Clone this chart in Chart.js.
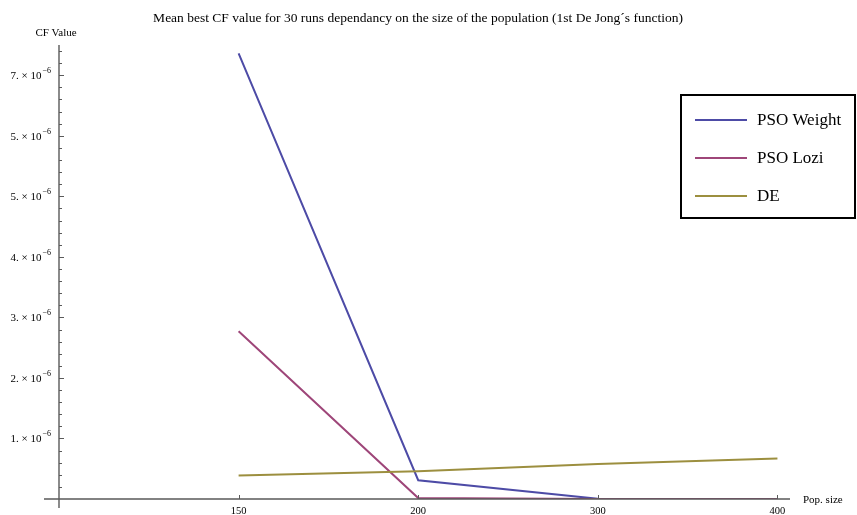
<!DOCTYPE html>
<html>
<head>
<meta charset="utf-8">
<script src="https://cdn.jsdelivr.net/npm/chart.js@4/dist/chart.umd.min.js"></script>
<style>
  html, body { margin: 0; padding: 0; background: #fff; }
  #wrap { width: 857px; height: 515px; position: relative; }
</style>
</head>
<body>
<div id="wrap"><canvas id="cfChart"></canvas></div>
<script>
// population sizes on the x axis
const popSizes = ['150', '200', '300', '400'];

// mean best CF value for each algorithm
const psoWeight = [7.36e-6, 0.31e-6, 0.004e-6, 0.002e-6];
const psoLozi = [2.77e-6, 0.015e-6, 0.002e-6, 0.002e-6];
const deVals = [0.39e-6, 0.46e-6, 0.58e-6, 0.67e-6];

// y tick labels as printed in the picture (mantissa, exponent)
const yTickVals = [1e-6, 2e-6, 3e-6, 4e-6, 5e-6, 6e-6, 7e-6];
const yTickLabels = ['1.', '2.', '3.', '4.', '5.', '5.', '7.'];
const yTickExp = '\u22126';

const seriesNames = ['PSO Weight', 'PSO Lozi', 'DE'];
const seriesColors = ['#4d4ba6', '#9e4679', '#9c8f3f'];

const chartTitle = 'Mean best CF value for 30 runs dependancy on the size of the population (1st De Jong\u00b4s function)';

const serif = '"Liberation Serif", "DejaVu Serif", serif';

function toPoints(vals) {
  return vals.map((v, i) => ({ x: i + 1, y: v }));
}

const axesPlugin = {
  id: 'mmaAxes',
  afterDraw(chart) {
    const ctx = chart.ctx;
    const xs = chart.scales.x;
    const ys = chart.scales.y;
    const x0 = xs.getPixelForValue(0);
    const y0 = ys.getPixelForValue(0);
    ctx.save();

    // title
    ctx.fillStyle = '#000';
    ctx.font = '13.5px ' + serif;
    ctx.textAlign = 'center';
    ctx.textBaseline = 'alphabetic';
    ctx.fillText(chartTitle, 418, 22);

    // axis lines
    ctx.strokeStyle = '#5a5a5a';
    ctx.lineWidth = 1.4;
    ctx.beginPath();
    ctx.moveTo(x0, ys.top);
    ctx.lineTo(x0, y0 + 9);
    ctx.moveTo(x0 - 15, y0);
    ctx.lineTo(xs.right, y0);
    ctx.stroke();

    // y ticks: majors every 1e-6, minors every 0.2e-6
    ctx.lineWidth = 1;
    ctx.beginPath();
    for (let k = 1; k <= 37; k++) {
      const py = Math.round(ys.getPixelForValue(k * 0.2e-6)) + 0.5;
      if (py < ys.top) break;
      const len = (k % 5 === 0) ? 5 : 3;
      ctx.moveTo(x0, py);
      ctx.lineTo(x0 + len, py);
    }
    // x ticks
    popSizes.forEach((p, i) => {
      const px = Math.round(xs.getPixelForValue(i + 1)) + 0.5;
      ctx.moveTo(px, y0);
      ctx.lineTo(px, y0 - 4);
    });
    ctx.stroke();

    // y tick labels
    ctx.fillStyle = '#000';
    yTickVals.forEach((v, i) => {
      const py = ys.getPixelForValue(v);
      ctx.font = '8px ' + serif;
      const ew = ctx.measureText(yTickExp).width;
      ctx.font = '11px ' + serif;
      const main = yTickLabels[i] + ' \u00d7 10';
      const mw = ctx.measureText(main).width;
      const right = x0 - 8;
      ctx.textAlign = 'left';
      ctx.fillText(main, right - ew - mw - 1, py + 4);
      ctx.font = '8px ' + serif;
      ctx.fillText(yTickExp, right - ew, py - 2);
    });

    // x tick labels
    ctx.font = '10.5px ' + serif;
    ctx.textAlign = 'center';
    popSizes.forEach((p, i) => {
      ctx.fillText(p, xs.getPixelForValue(i + 1), y0 + 15);
    });

    // axis titles
    ctx.font = '11px ' + serif;
    ctx.textAlign = 'left';
    ctx.fillText('Pop. size', xs.right + 13, y0 + 4);
    ctx.textAlign = 'center';
    ctx.fillText('CF Value', x0 - 3, 36);

    // legend box
    const lx = 681, ly = 95, lw = 174, lh = 123;
    ctx.strokeStyle = '#000';
    ctx.lineWidth = 2;
    ctx.strokeRect(lx, ly, lw, lh);
    ctx.font = '17px ' + serif;
    ctx.textAlign = 'left';
    chart.data.datasets.forEach((ds, i) => {
      const ry = ly + 25 + i * 38;
      ctx.strokeStyle = ds.borderColor;
      ctx.lineWidth = 2;
      ctx.beginPath();
      ctx.moveTo(lx + 14, ry);
      ctx.lineTo(lx + 66, ry);
      ctx.stroke();
      ctx.fillStyle = '#000';
      ctx.fillText(ds.label, lx + 76, ry + 5);
    });
    ctx.restore();
  }
};

const datasets = [psoWeight, psoLozi, deVals].map((vals, i) => ({
  label: seriesNames[i],
  data: toPoints(vals),
  borderColor: seriesColors[i],
  backgroundColor: seriesColors[i],
  borderWidth: 2,
  pointRadius: 0,
  tension: 0,
  order: 2 - i
}));

new Chart(document.getElementById('cfChart'), {
  type: 'line',
  data: { datasets: datasets },
  options: {
    responsive: true,
    maintainAspectRatio: false,
    animation: false,
    layout: { padding: { left: 59, right: 67, top: 45, bottom: 16 } },
    scales: {
      x: { type: 'linear', min: 0, max: 4.07, display: false },
      y: { type: 'linear', min: 0, max: 7.5e-6, display: false }
    },
    plugins: {
      legend: { display: false },
      tooltip: { enabled: false },
      title: { display: false }
    }
  },
  plugins: [axesPlugin]
});
</script>
</body>
</html>
